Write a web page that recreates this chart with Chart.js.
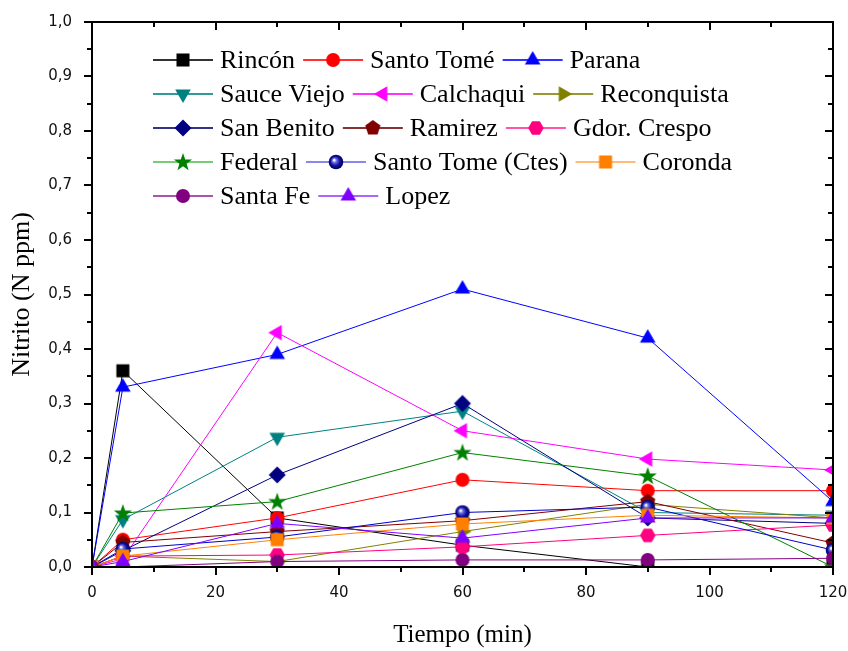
<!DOCTYPE html>
<html>
<head>
<meta charset="utf-8">
<script src="https://cdn.jsdelivr.net/npm/chart.js@4/dist/chart.umd.min.js"></script>
<style>
  html,body{margin:0;padding:0;background:#fff;}
  #wrap{width:848px;height:651px;}
</style>
</head>
<body>
<div id="wrap"><canvas id="c" width="848" height="651"></canvas></div>
<script>
// ---- data ----
const times=[0,5,30,60,90,120];
const names=["Rincón","Santo Tomé","Parana","Sauce Viejo","Calchaqui","Reconquista","San Benito","Ramirez","Gdor. Crespo","Federal","Santo Tome (Ctes)","Coronda","Santa Fe","Lopez"];
const rincon     =[0,0.36,0.09,0.04,0,0];
const santoTome  =[0,0.05,0.09,0.16,0.14,0.14];
const parana     =[0,0.33,0.39,0.51,0.42,0.12];
const sauceViejo =[0,0.087,0.238,0.286,0.10,0.095];
const calchaqui  =[0,0.015,0.43,0.25,0.198,0.178];
const reconquista=[0,0.02,0.01,0.065,0.115,0.09];
const sanBenito  =[0,0.03,0.169,0.30,0.09,0.08];
const ramirez    =[0,0.045,0.065,0.085,0.12,0.044];
const gdorCrespo =[0,0.02,0.022,0.037,0.058,0.077];
const federal    =[0,0.099,0.12,0.21,0.167,0];
const santoTomeCt=[0,0.033,0.055,0.10,0.11,0.031];
const coronda    =[0,0.02,0.05,0.079,0.095,0.09];
const santaFe    =[0,0,0.01,0.013,0.013,0.016];
const lopez      =[0,0.01,0.08,0.053,0.09,0.09];
const series=[rincon,santoTome,parana,sauceViejo,calchaqui,reconquista,sanBenito,ramirez,gdorCrespo,federal,santoTomeCt,coronda,santaFe,lopez];

const colors=["#000000","#ff0000","#0000ff","#008080","#ff00ff","#808000","#000080","#800000","#ff0080","#008000","#0000cc","#ff8000","#800080","#8000ff"];
const legLine=["#333333","#ff3333","#3333ff","#339999","#ff33ff","#999933","#333388","#883333","#ff55aa","#77cc77","#8888ee","#ffbb77","#aa55aa","#aa66ff"];
const shapes=["square","circle","triUp","triDown","triLeft","triRight","diamond","pentagon","hexagon","star","sphere","square","circle","triUp"];
const legendRows=[[0,1,2],[3,4,5],[6,7,8],[9,10,11],[12,13]];

// ---- markers ----
function poly(g,n,r,rot){
  g.beginPath();
  for(let i=0;i<n;i++){const a=rot+i*2*Math.PI/n;const x=10+r*Math.cos(a),y=10+r*Math.sin(a);i?g.lineTo(x,y):g.moveTo(x,y);}
  g.closePath();g.fill();
}
function marker(shape,col){
  const c=document.createElement("canvas");c.width=20;c.height=20;
  const g=c.getContext("2d");g.fillStyle=col;
  const up=-Math.PI/2;
  if(shape==="square"){g.fillRect(3.5,3.5,13,13);}
  else if(shape==="circle"){g.beginPath();g.arc(10,10,7,0,Math.PI*2);g.fill();}
  else if(shape==="triUp"){poly(g,3,9,up);}
  else if(shape==="triDown"){poly(g,3,9,Math.PI/2);}
  else if(shape==="triLeft"){poly(g,3,9,Math.PI);}
  else if(shape==="triRight"){poly(g,3,9,0);}
  else if(shape==="diamond"){poly(g,4,8.5,0);}
  else if(shape==="pentagon"){poly(g,5,8,up);}
  else if(shape==="hexagon"){poly(g,6,7.8,0);}
  else if(shape==="star"){
    g.beginPath();
    for(let i=0;i<10;i++){const r=i%2?3.8:9.5;const a=up+i*Math.PI/5;const x=10+r*Math.cos(a),y=10.5+r*Math.sin(a);i?g.lineTo(x,y):g.moveTo(x,y);}
    g.closePath();g.fill();
  }
  else if(shape==="sphere"){
    const rg=g.createRadialGradient(8,8,0.5,10,10,7.5);
    rg.addColorStop(0,"#ffffff");rg.addColorStop(0.25,"#6a6ae0");rg.addColorStop(0.6,"#1010a0");rg.addColorStop(1,"#000050");
    g.fillStyle=rg;g.beginPath();g.arc(10,10,7.3,0,Math.PI*2);g.fill();
  }
  return c;
}
const markers=shapes.map((s,i)=>marker(s,colors[i]));

// ---- frame, mirrored ticks and in-plot legend ----
const frame={
  id:"frame",
  afterDraw(chart){
    const {ctx,chartArea:a,scales:{x,y}}=chart;
    ctx.save();
    ctx.strokeStyle="#000";ctx.lineWidth=2;
    ctx.strokeRect(a.left,a.top,a.right-a.left,a.bottom-a.top);
    ctx.beginPath();
    for(let v=0;v<=120;v+=10){
      const px=Math.round(x.getPixelForValue(v));
      const L=v%20===0?8:5;
      ctx.moveTo(px,a.bottom);ctx.lineTo(px,a.bottom+L);
      ctx.moveTo(px,a.top);ctx.lineTo(px,a.top+L);
    }
    for(let k=0;k<=20;k++){
      const py=Math.round(y.getPixelForValue(k*0.05));
      const L=k%2===0?8:5;
      ctx.moveTo(a.left,py);ctx.lineTo(a.left-L,py);
      ctx.moveTo(a.right,py);ctx.lineTo(a.right-L,py);
    }
    ctx.stroke();

    // legend
    ctx.font="26px 'Liberation Serif'";ctx.textBaseline="middle";
    legendRows.forEach((row,r)=>{
      let lx=153;const ly=60+r*34;
      row.forEach(i=>{
        ctx.strokeStyle=legLine[i];ctx.lineWidth=2;
        ctx.beginPath();ctx.moveTo(lx,ly);ctx.lineTo(lx+60,ly);ctx.stroke();
        ctx.drawImage(markers[i],lx+30-10,ly-10);
        ctx.fillStyle="#000";ctx.fillText(names[i],lx+67,ly+1);
        lx+=67+ctx.measureText(names[i]).width+8;
      });
    });
    ctx.restore();
  }
};

const datasets=series.map((s,i)=>({
  label:names[i],
  data:times.map((t,j)=>({x:t,y:s[j]})),
  borderColor:colors[i],
  backgroundColor:colors[i],
  borderWidth:1,
  pointStyle:markers[i],
  pointRadius:7,
  pointHoverRadius:7,
  tension:0,
  order:series.length-i
}));

new Chart(document.getElementById("c"),{
  type:"line",
  data:{datasets},
  plugins:[frame],
  options:{
    responsive:false,animation:false,
    layout:{padding:{left:0,top:22,right:15,bottom:0}},
    plugins:{legend:{display:false},tooltip:{enabled:false}},
    scales:{
      x:{
        type:"linear",min:0,max:120,
        grid:{display:false,drawTicks:false},
        border:{display:false},
        ticks:{stepSize:20,padding:17,color:"#111",font:{family:"DejaVu Sans",size:15}},
        title:{display:true,text:"Tiempo (min)",color:"#000",font:{family:"Liberation Serif",size:25},padding:{top:0,bottom:1}},
        afterFit(s){s.height=84;s.paddingLeft=0;s.paddingRight=0;}
      },
      y:{
        min:0,max:1,
        grid:{display:false,drawTicks:false},
        border:{display:false},
        ticks:{stepSize:0.1,padding:20,color:"#111",font:{family:"DejaVu Sans",size:15},
          callback:(v)=>v.toFixed(1).replace(".",",")},
        title:{display:true,text:"Nitrito (N ppm)",color:"#000",font:{family:"Liberation Serif",size:26},padding:{top:7,bottom:0}},
        afterFit(s){s.width=92;s.paddingTop=0;s.paddingBottom=0;}
      }
    }
  }
});
</script>
</body>
</html>
